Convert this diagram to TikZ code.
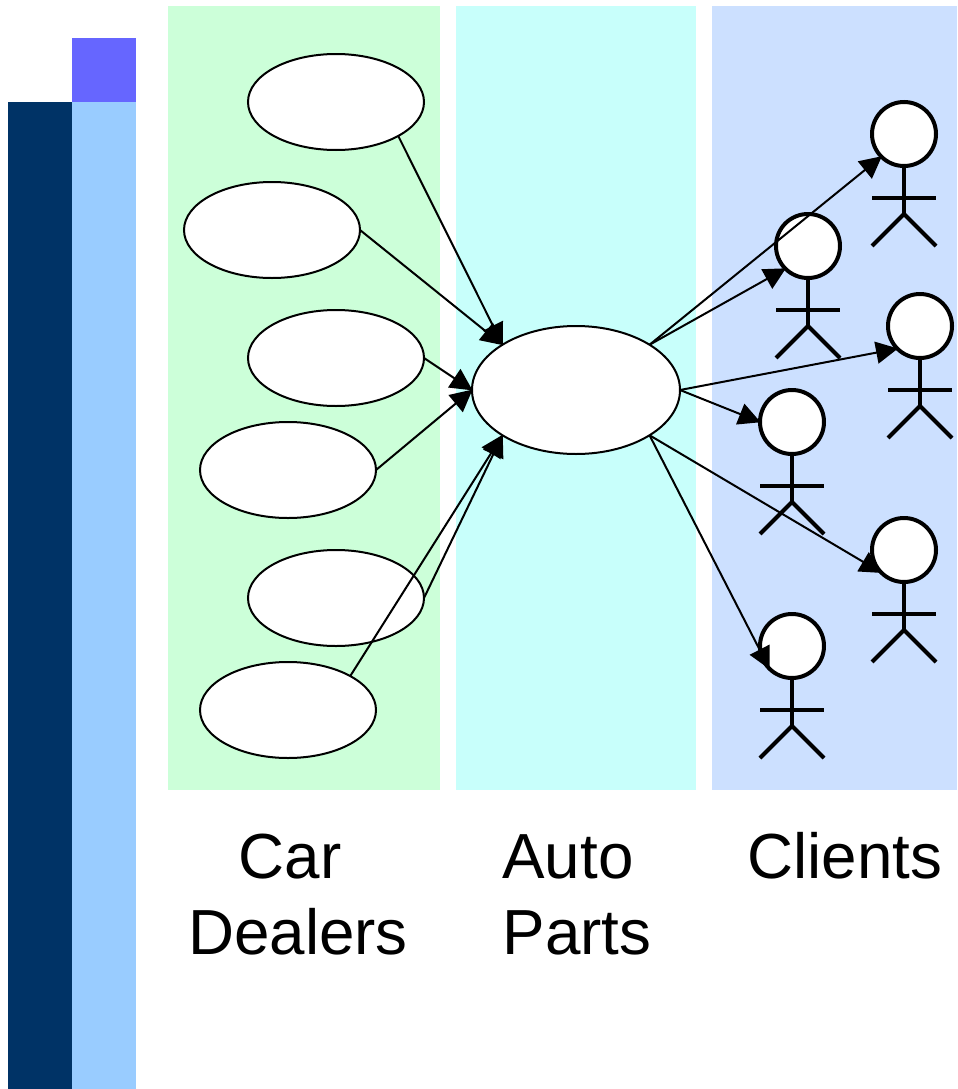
\documentclass[tikz,border=0pt]{standalone}
\usepackage{fontspec}
\setmainfont{Liberation Sans}
\usetikzlibrary{arrows.meta,shapes.geometric}
\definecolor{bandgreen}{HTML}{CCFFD9}
\definecolor{bandcyan}{HTML}{C8FFFB}
\definecolor{bandblue}{HTML}{CCE0FF}
\definecolor{bardark}{HTML}{003366}
\definecolor{barlight}{HTML}{99CCFF}
\definecolor{bartop}{HTML}{6666FF}
\tikzset{
  x=0.75pt,y=-0.75pt,
  band/.style={fill=#1,draw=none},
  usecase/.style={ellipse,draw=black,fill=white,line width=1.5pt,minimum width=132pt,minimum height=72pt,inner sep=0pt,outer sep=0pt},
  hub/.style={usecase,minimum width=156pt,minimum height=96pt},
  head/.style={circle,draw=black,fill=white,line width=3pt,minimum size=48pt,inner sep=0pt,outer sep=0pt},
  limb/.style={draw=black,line width=3pt},
  link/.style={draw=black,line width=1.5pt,-{Triangle[length=16.5pt,width=16.5pt]},shorten >=-0.5pt},
  lbl/.style={font=\fontsize{47.8pt}{56pt}\selectfont,anchor=base,inner sep=0pt,text=black}
}
\newcommand{\actor}[3]{%
  \node[head] (#1) at (#2,#3) {};
  \coordinate (#1-hip) at (#2,#3+80);
  \coordinate (#1-al) at (#2-32,#3+64);
  \coordinate (#1-ar) at (#2+32,#3+64);
  \coordinate (#1-fl) at (#2-32,#3+112);
  \coordinate (#1-fr) at (#2+32,#3+112);
  \draw[limb] (#1.south) -- (#1-hip);
  \draw[limb] (#1-al) -- (#1-ar);
  \draw[limb] (#1-fl) -- (#1-hip) -- (#1-fr);
}
\begin{document}
\begin{tikzpicture}
\useasboundingbox (0,0) rectangle (957,1089);
\fill[band=bartop] (72,38) rectangle (136,102);
\fill[band=bardark] (8,102) rectangle (72,1089);
\fill[band=barlight] (72,102) rectangle (136,1089);
\fill[band=bandgreen] (168,6) rectangle (440,790);
\fill[band=bandcyan] (456,6) rectangle (696,790);
\fill[band=bandblue] (712,6) rectangle (957,790);

\node[usecase] (e1) at (336,102) {};
\node[usecase] (e2) at (272,230) {};
\node[usecase] (e3) at (336,358) {};
\node[usecase] (e4) at (288,470) {};
\node[usecase] (e5) at (336,598) {};
\node[usecase] (e6) at (288,710) {};
\node[hub] (hub) at (576,390) {};

\actor{a1}{904}{134}
\actor{a2}{808}{246}
\actor{a3}{920}{326}
\actor{a4}{792}{422}
\actor{a5}{904}{550}
\actor{a6}{792}{646}

\draw[link] (e1.south east) -- (hub.north west);
\draw[link] (e2.east) -- (hub.north west);
\draw[link] (e3.east) -- (hub.west);
\draw[link] (e4.east) -- (hub.west);
\draw[link] (e5.east) -- (hub.south west);
\draw[link] (e6.north east) -- (hub.south west);
\draw[link] (hub.north east) -- (a1.south west);
\draw[link] (hub.north east) -- (a2.south west);
\draw[link] (hub.east) -- (a3.south west);
\draw[link] (hub.east) -- (a4.west);
\draw[link] (hub.south east) -- (a5.south west);
\draw[link] (hub.south east) -- (a6.south west);

\node[lbl] (t1) at (290,878) {Car};
\node[lbl] (t2) at (298,954) {Dealers};
\node[lbl] (t3) at (568,878) {Auto};
\node[lbl] (t4) at (577,954) {Parts};
\node[lbl] (t5) at (845,878) {Clients};
\end{tikzpicture}
\end{document}
